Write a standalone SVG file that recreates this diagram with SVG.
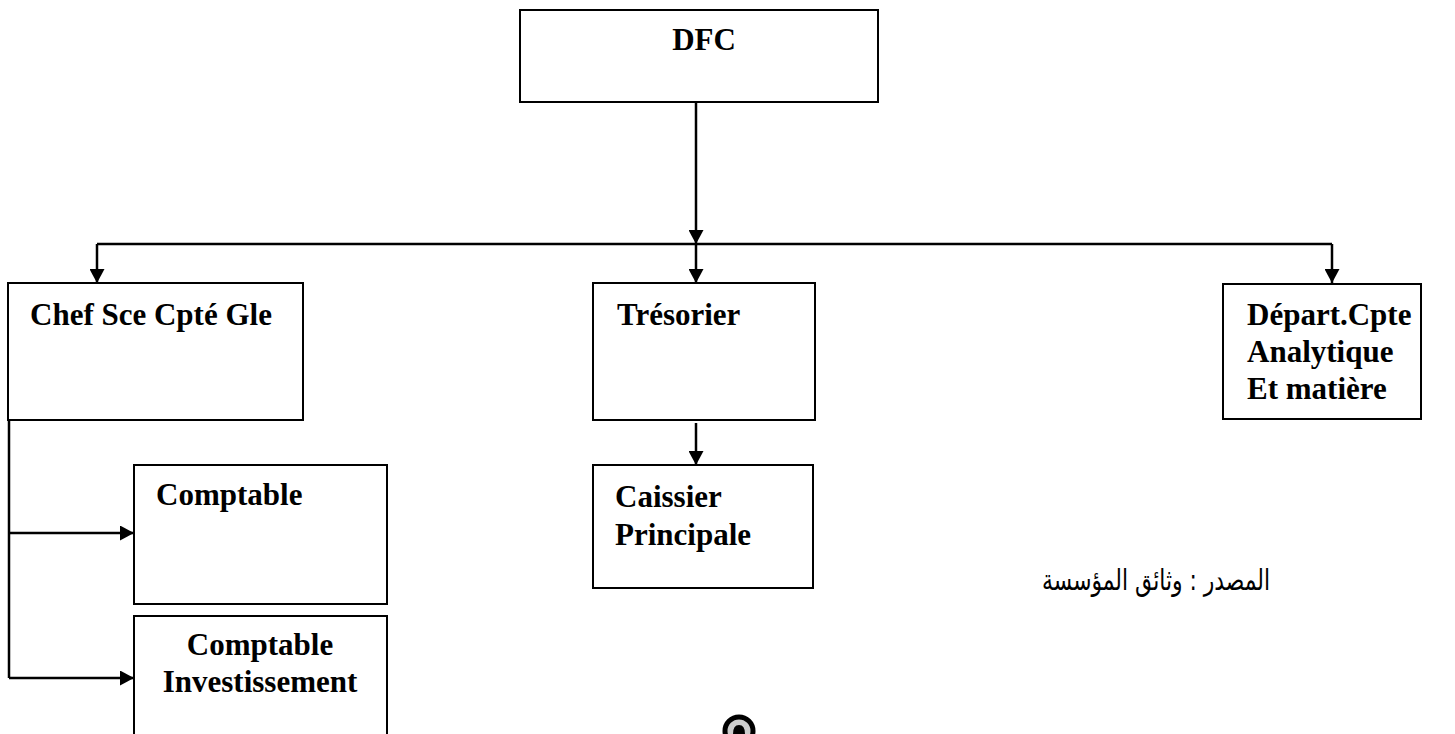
<svg xmlns="http://www.w3.org/2000/svg" width="1455" height="734" viewBox="0 0 1455 734">
  <style>
    .box { fill: #ffffff; stroke: #000000; stroke-width: 2; }
    .lbl { font-family: "Liberation Serif", "Times New Roman", serif; font-weight: bold; font-size: 31px; fill: #000000; }
    .wire { fill: none; stroke: #000000; stroke-width: 2.5; }
    .src { font-family: "DejaVu Sans", "Noto Sans", sans-serif; font-size: 29px; fill: #000000; }
  </style>
  <defs>
    <marker id="arrow" markerUnits="userSpaceOnUse" markerWidth="15" markerHeight="15" refX="14" refY="7.5" orient="auto">
      <path d="M0,0 L14,7.5 L0,15 z" fill="#000000"/>
    </marker>
  </defs>

  <rect width="1455" height="734" fill="#ffffff"/>

  <!-- connectors -->
  <g id="connectors">
    <path class="wire" d="M696,102 L696,244" marker-end="url(#arrow)"/>
    <path class="wire" d="M97,244 L1332,244"/>
    <path class="wire" d="M97,244 L97,283" marker-end="url(#arrow)"/>
    <path class="wire" d="M696,244 L696,283" marker-end="url(#arrow)"/>
    <path class="wire" d="M1332,244 L1332,283" marker-end="url(#arrow)"/>
    <path class="wire" d="M696,423 L696,465" marker-end="url(#arrow)"/>
    <path class="wire" d="M9,420 L9,678"/>
    <path class="wire" d="M9,533 L134,533" marker-end="url(#arrow)"/>
    <path class="wire" d="M9,678 L134,678" marker-end="url(#arrow)"/>
  </g>

  <!-- nodes -->
  <g id="dfc">
    <rect class="box" x="520" y="10" width="358" height="92"/>
    <text class="lbl" x="704" y="50" text-anchor="middle">DFC</text>
  </g>
  <g id="chef-sce">
    <rect class="box" x="8" y="283" width="295" height="137"/>
    <text class="lbl" x="30" y="325">Chef Sce Cpté Gle</text>
  </g>
  <g id="tresorier">
    <rect class="box" x="593" y="283" width="222" height="137"/>
    <text class="lbl" x="617" y="325">Trésorier</text>
  </g>
  <g id="depart">
    <rect class="box" x="1223" y="284" width="198" height="135"/>
    <text class="lbl" x="1247" y="325">Départ.Cpte</text>
    <text class="lbl" x="1247" y="362">Analytique</text>
    <text class="lbl" x="1247" y="399">Et matière</text>
  </g>
  <g id="caissier">
    <rect class="box" x="593" y="465" width="220" height="123"/>
    <text class="lbl" x="615" y="507">Caissier</text>
    <text class="lbl" x="615" y="545">Principale</text>
  </g>
  <g id="comptable">
    <rect class="box" x="134" y="465" width="253" height="139"/>
    <text class="lbl" x="156" y="505">Comptable</text>
  </g>
  <g id="comptable-invest">
    <rect class="box" x="134" y="616" width="253" height="130"/>
    <text class="lbl" x="260" y="655" text-anchor="middle">Comptable</text>
    <text class="lbl" x="260" y="692" text-anchor="middle">Investissement</text>
  </g>

  <!-- source note -->
  <text class="src" x="1270" y="590" direction="rtl" text-anchor="start" textLength="228" lengthAdjust="spacingAndGlyphs">المصدر : وثائق المؤسسة</text>

  <!-- page mark at the bottom edge -->
  <g id="page-mark">
    <circle cx="739" cy="731" r="14" fill="#cccccc" stroke="#000000" stroke-width="5"/>
    <path d="M733,734 Q733,725 739,725 Q745,725 745,734 z" fill="#000000"/>
  </g>
</svg>
